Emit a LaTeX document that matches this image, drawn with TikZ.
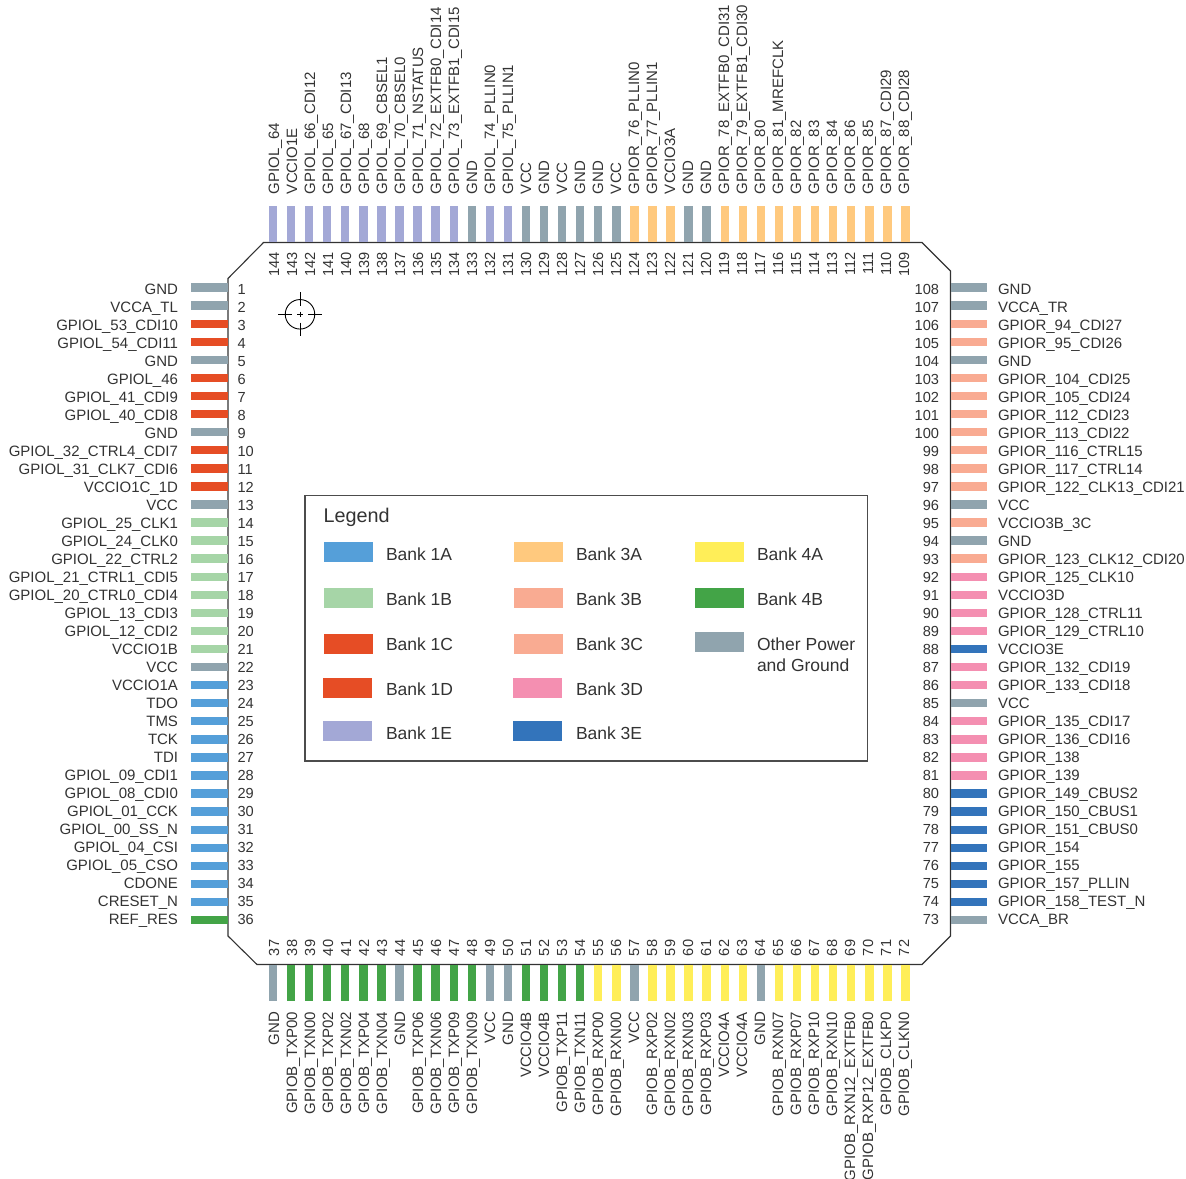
\documentclass[tikz,border=0pt]{standalone}
\usepackage{fontspec}
\setmainfont{Liberation Sans}
\definecolor{bkoa}{HTML}{559FD9}
\definecolor{bkob}{HTML}{A6D5A7}
\definecolor{bkoc}{HTML}{E64D25}
\definecolor{bkoe}{HTML}{A3A8D6}
\definecolor{bkta}{HTML}{FFC97E}
\definecolor{bktb}{HTML}{F9AB92}
\definecolor{bktd}{HTML}{F48FB1}
\definecolor{bkte}{HTML}{3374BB}
\definecolor{bkfa}{HTML}{FFEE58}
\definecolor{bkfb}{HTML}{43A447}
\definecolor{bkpw}{HTML}{90A4AE}
\definecolor{ink}{HTML}{333333}
\tikzset{
  pintext/.style={inner sep=0pt,outer sep=0pt,text=ink,font=\fontsize{15}{18}\selectfont},
  numtext/.style={pintext,font=\fontsize{14.6}{18}\selectfont},
  legtext/.style={inner sep=0pt,outer sep=0pt,text=ink,font=\fontsize{17.5}{21}\selectfont},
  legtitle/.style={legtext,font=\fontsize{19.8}{24}\selectfont},
  chipline/.style={draw=black!80,line width=1.1pt,line join=miter},
  legbox/.style={draw=black!70,line width=1.2pt},
  crossline/.style={draw=black,line width=0.9pt},
}
\begin{document}
\catcode`\_=12
\begin{tikzpicture}[x=1pt,y=-1pt]
\useasboundingbox (0,0) rectangle (1186,1178);
% package outline
\draw[chipline] (263.5,242.5) -- (922,242.5) -- (950.5,271) -- (950.5,936) -- (922,964.5) -- (257,964.5) -- (228,936) -- (228,278.5) -- cycle;
% orientation mark
\node[crossline,draw,circle,minimum size=29.5pt,inner sep=0pt] (mark) at (300,314.3) {};
\coordinate (markW) at (278,314.3);
\coordinate (markWi) at (291.8,314.3);
\coordinate (markE) at (322,314.3);
\coordinate (markEi) at (308.2,314.3);
\coordinate (markN) at (300,292.3);
\coordinate (markNi) at (300,306.1);
\coordinate (markS) at (300,336.3);
\coordinate (markSi) at (300,322.5);
\coordinate (mw) at (297.4,314.3);
\coordinate (me) at (302.6,314.3);
\coordinate (mn) at (300,311.7);
\coordinate (ms) at (300,316.9);
\draw[crossline] (markW) -- (markWi) (markEi) -- (markE) (markN) -- (markNi) (markSi) -- (markS);
\draw[crossline] (mw) -- (me) (mn) -- (ms);
% left pins
\foreach \n/\t/\c in {1/GND/bkpw,2/VCCA_TL/bkpw,3/GPIOL_53_CDI10/bkoc,4/GPIOL_54_CDI11/bkoc,5/GND/bkpw,6/GPIOL_46/bkoc,7/GPIOL_41_CDI9/bkoc,8/GPIOL_40_CDI8/bkoc,9/GND/bkpw,10/GPIOL_32_CTRL4_CDI7/bkoc,11/GPIOL_31_CLK7_CDI6/bkoc,12/VCCIO1C_1D/bkoc,13/VCC/bkpw,14/GPIOL_25_CLK1/bkob,15/GPIOL_24_CLK0/bkob,16/GPIOL_22_CTRL2/bkob,17/GPIOL_21_CTRL1_CDI5/bkob,18/GPIOL_20_CTRL0_CDI4/bkob,19/GPIOL_13_CDI3/bkob,20/GPIOL_12_CDI2/bkob,21/VCCIO1B/bkob,22/VCC/bkpw,23/VCCIO1A/bkoa,24/TDO/bkoa,25/TMS/bkoa,26/TCK/bkoa,27/TDI/bkoa,28/GPIOL_09_CDI1/bkoa,29/GPIOL_08_CDI0/bkoa,30/GPIOL_01_CCK/bkoa,31/GPIOL_00_SS_N/bkoa,32/GPIOL_04_CSI/bkoa,33/GPIOL_05_CSO/bkoa,34/CDONE/bkoa,35/CRESET_N/bkoa,36/REF_RES/bkfb}{
  \pgfmathsetmacro{\yb}{287.6+18.07*(\n-1)}
  \pgfmathsetmacro{\yt}{294.5+18*(\n-1)}
  \fill[\c] (191,\yb-4.2) rectangle (228,\yb+4.2);
  \node[numtext,anchor=base west] (nL\n) at (237.5,\yt) {\n};
  \node[pintext,anchor=base east] (tL\n) at (178,\yt) {\t};
}
% right pins
\foreach \n/\t/\c in {108/GND/bkpw,107/VCCA_TR/bkpw,106/GPIOR_94_CDI27/bktb,105/GPIOR_95_CDI26/bktb,104/GND/bkpw,103/GPIOR_104_CDI25/bktb,102/GPIOR_105_CDI24/bktb,101/GPIOR_112_CDI23/bktb,100/GPIOR_113_CDI22/bktb,99/GPIOR_116_CTRL15/bktb,98/GPIOR_117_CTRL14/bktb,97/GPIOR_122_CLK13_CDI21/bktb,96/VCC/bkpw,95/VCCIO3B_3C/bktb,94/GND/bkpw,93/GPIOR_123_CLK12_CDI20/bktb,92/GPIOR_125_CLK10/bktd,91/VCCIO3D/bktd,90/GPIOR_128_CTRL11/bktd,89/GPIOR_129_CTRL10/bktd,88/VCCIO3E/bkte,87/GPIOR_132_CDI19/bktd,86/GPIOR_133_CDI18/bktd,85/VCC/bkpw,84/GPIOR_135_CDI17/bktd,83/GPIOR_136_CDI16/bktd,82/GPIOR_138/bktd,81/GPIOR_139/bktd,80/GPIOR_149_CBUS2/bkte,79/GPIOR_150_CBUS1/bkte,78/GPIOR_151_CBUS0/bkte,77/GPIOR_154/bkte,76/GPIOR_155/bkte,75/GPIOR_157_PLLIN/bkte,74/GPIOR_158_TEST_N/bkte,73/VCCA_BR/bkpw}{
  \pgfmathsetmacro{\yb}{287.6+18.07*(108-\n)}
  \pgfmathsetmacro{\yt}{294.5+18*(108-\n)}
  \fill[\c] (950.5,\yb-4.2) rectangle (987,\yb+4.2);
  \node[numtext,anchor=base east] (nR\n) at (939,\yt) {\n};
  \node[pintext,anchor=base west] (tR\n) at (998,\yt) {\t};
}
% top pins
\foreach \n/\t/\c in {144/GPIOL_64/bkoe,143/VCCIO1E/bkoe,142/GPIOL_66_CDI12/bkoe,141/GPIOL_65/bkoe,140/GPIOL_67_CDI13/bkoe,139/GPIOL_68/bkoe,138/GPIOL_69_CBSEL1/bkoe,137/GPIOL_70_CBSEL0/bkoe,136/GPIOL_71_NSTATUS/bkoe,135/GPIOL_72_EXTFB0_CDI14/bkoe,134/GPIOL_73_EXTFB1_CDI15/bkoe,133/GND/bkpw,132/GPIOL_74_PLLIN0/bkoe,131/GPIOL_75_PLLIN1/bkoe,130/VCC/bkpw,129/GND/bkpw,128/VCC/bkpw,127/GND/bkpw,126/GND/bkpw,125/VCC/bkpw,124/GPIOR_76_PLLIN0/bkta,123/GPIOR_77_PLLIN1/bkta,122/VCCIO3A/bkta,121/GND/bkpw,120/GND/bkpw,119/GPIOR_78_EXTFB0_CDI31/bkta,118/GPIOR_79_EXTFB1_CDI30/bkta,117/GPIOR_80/bkta,116/GPIOR_81_MREFCLK/bkta,115/GPIOR_82/bkta,114/GPIOR_83/bkta,113/GPIOR_84/bkta,112/GPIOR_86/bkta,111/GPIOR_85/bkta,110/GPIOR_87_CDI29/bkta,109/GPIOR_88_CDI28/bkta}{
  \pgfmathsetmacro{\xb}{273+18.07*(144-\n)}
  \pgfmathsetmacro{\xl}{279+18*(144-\n)}
  \pgfmathsetmacro{\xn}{279+18*(144-\n)}
  \fill[\c] (\xb-4.2,206) rectangle (\xb+4.2,242);
  \node[numtext,anchor=base east,rotate=90] (nT\n) at (\xn,252) {\n};
  \node[pintext,anchor=base west,rotate=90] (tT\n) at (\xl,194) {\t};
}
% bottom pins
\foreach \n/\t/\c in {37/GND/bkpw,38/GPIOB_TXP00/bkfb,39/GPIOB_TXN00/bkfb,40/GPIOB_TXP02/bkfb,41/GPIOB_TXN02/bkfb,42/GPIOB_TXP04/bkfb,43/GPIOB_TXN04/bkfb,44/GND/bkpw,45/GPIOB_TXP06/bkfb,46/GPIOB_TXN06/bkfb,47/GPIOB_TXP09/bkfb,48/GPIOB_TXN09/bkfb,49/VCC/bkpw,50/GND/bkpw,51/VCCIO4B/bkfb,52/VCCIO4B/bkfb,53/GPIOB_TXP11/bkfb,54/GPIOB_TXN11/bkfb,55/GPIOB_RXP00/bkfa,56/GPIOB_RXN00/bkfa,57/VCC/bkpw,58/GPIOB_RXP02/bkfa,59/GPIOB_RXN02/bkfa,60/GPIOB_RXN03/bkfa,61/GPIOB_RXP03/bkfa,62/VCCIO4A/bkfa,63/VCCIO4A/bkfa,64/GND/bkpw,65/GPIOB_RXN07/bkfa,66/GPIOB_RXP07/bkfa,67/GPIOB_RXP10/bkfa,68/GPIOB_RXN10/bkfa,69/GPIOB_RXN12_EXTFB0/bkfa,70/GPIOB_RXP12_EXTFB0/bkfa,71/GPIOB_CLKP0/bkfa,72/GPIOB_CLKN0/bkfa}{
  \pgfmathsetmacro{\xb}{273+18.07*(\n-37)}
  \pgfmathsetmacro{\xl}{279+18*(\n-37)}
  \pgfmathsetmacro{\xn}{279+18*(\n-37)}
  \fill[\c] (\xb-4.2,965) rectangle (\xb+4.2,1001);
  \node[numtext,anchor=base west,rotate=90] (nB\n) at (\xn,956) {\n};
  \node[pintext,anchor=base east,rotate=90] (tB\n) at (\xl,1012) {\t};
}
% legend
\draw[legbox] (305,495.5) rectangle (867.5,761);
\node[legtitle,anchor=base west] (legendtitle) at (323.5,522.3) {Legend};
\foreach \id/\x/\yo/\yb/\c/\t/\tx in {
  a/324/542/560/bkoa/Bank 1A/386, b/324/588/605/bkob/Bank 1B/386, c/324/634/650.7/bkoc/Bank 1C/386,
  d/323/678/695/bkoc/Bank 1D/386, e/323/721/739/bkoe/Bank 1E/386,
  f/514/542/560/bkta/Bank 3A/576, g/514/588/605/bktb/Bank 3B/576, h/514/634/650.7/bktb/Bank 3C/576,
  i/513/678/695/bktd/Bank 3D/576, j/513/721/739/bkte/Bank 3E/576,
  k/695/542/560/bkfa/Bank 4A/757, l/695/588/605/bkfb/Bank 4B/757}{
  \fill[\c] (\x,\yo) rectangle (\x+49,\yo+20);
  \node[legtext,anchor=base west] (leg\id) at (\tx,\yb) {\t};
}
\fill[bkpw] (695,632) rectangle (744,652);
\node[legtext,anchor=base west] (legm) at (757,650) {Other Power};
\node[legtext,anchor=base west] (legn) at (757,671) {and Ground};
\end{tikzpicture}
\end{document}
